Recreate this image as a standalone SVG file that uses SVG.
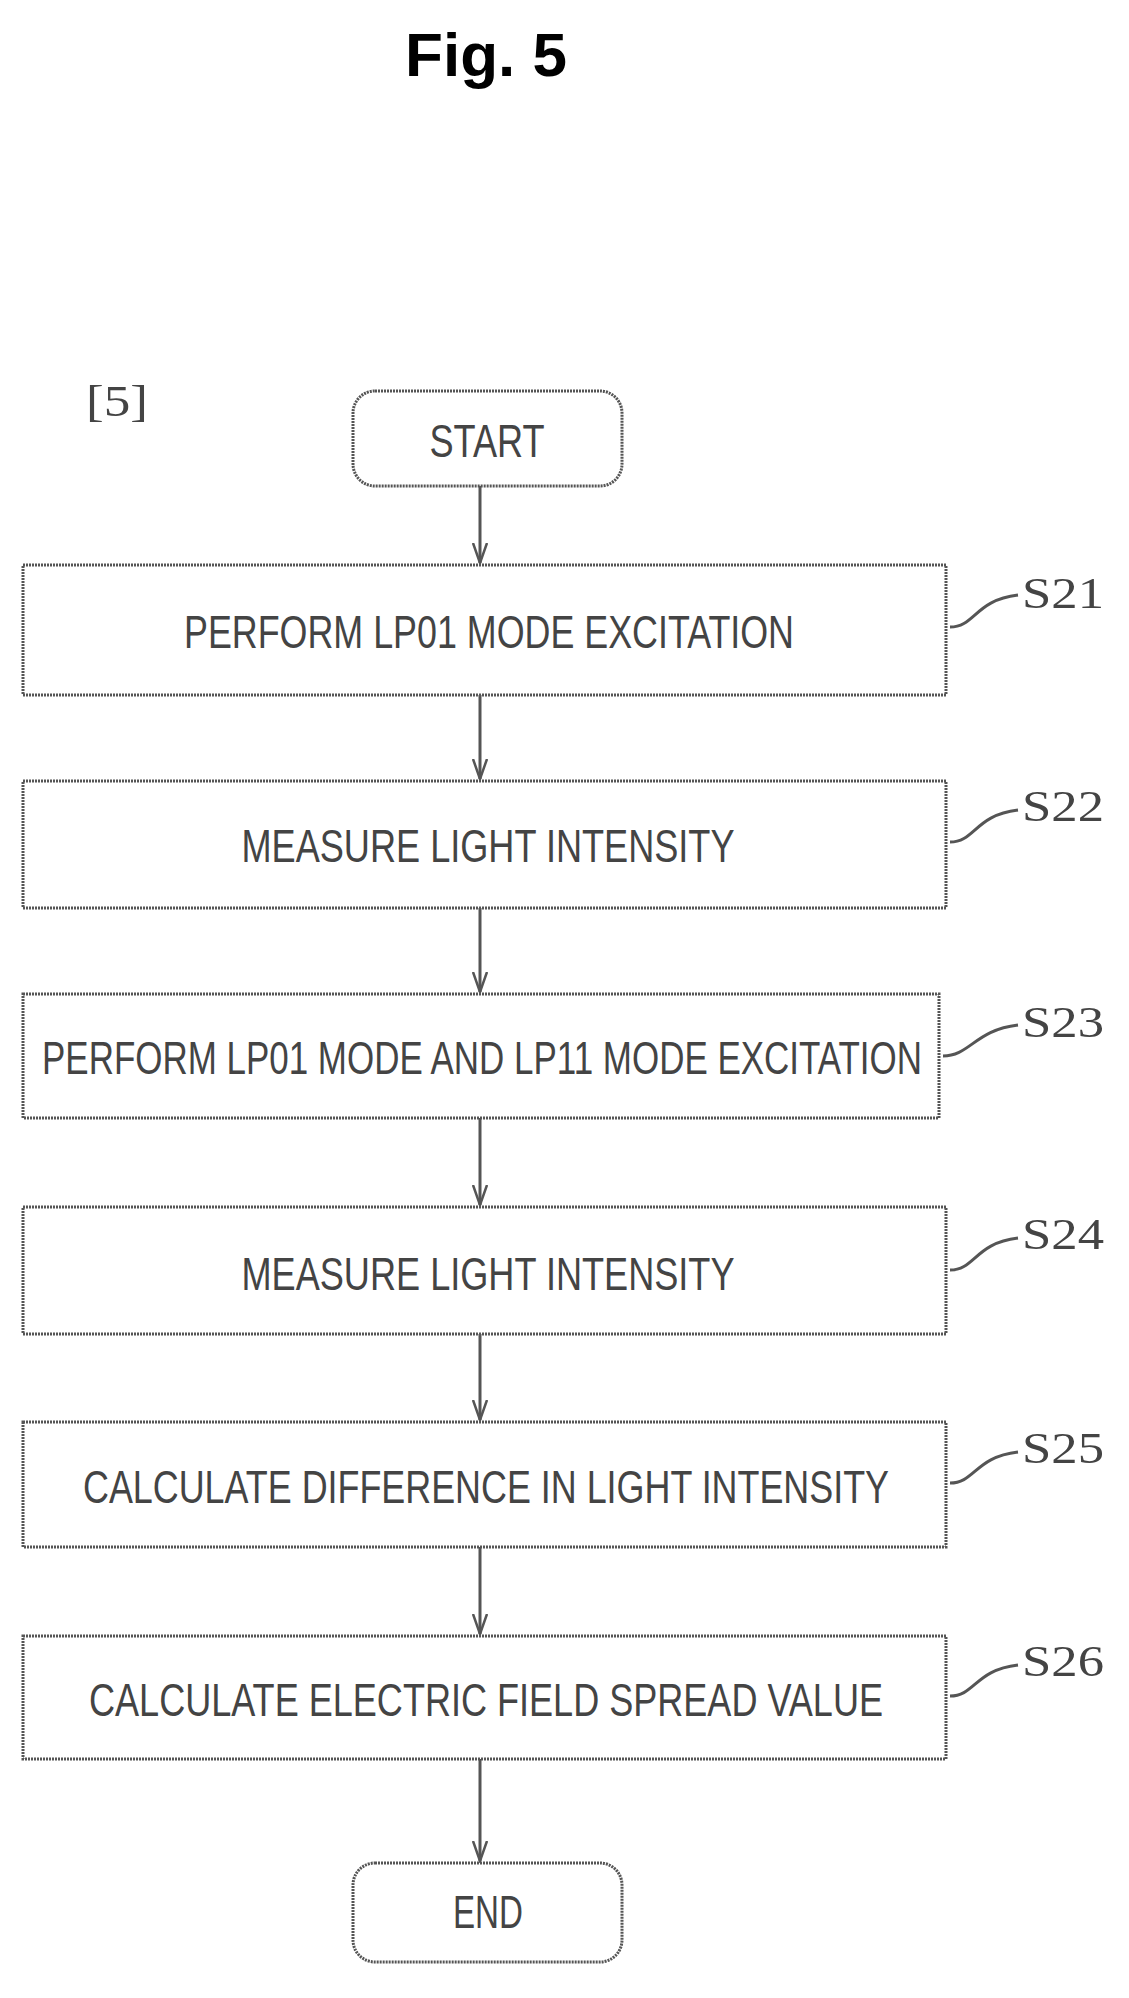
<svg xmlns="http://www.w3.org/2000/svg" width="1129" height="1998" viewBox="0 0 1129 1998">
<style>
.b{fill:#fff;stroke:#555;stroke-width:3;stroke-dasharray:2 1}
.t{font-family:"Liberation Sans",sans-serif;font-size:46px;fill:#444;text-anchor:middle;dominant-baseline:central}
.l{font-family:"Liberation Serif",serif;font-size:44px;fill:#444}
.c{fill:none;stroke:#555;stroke-width:3}
</style>
<defs><marker id="a" markerWidth="22" markerHeight="16" refX="20" refY="8" orient="auto" markerUnits="userSpaceOnUse" viewBox="0 0 22 16"><path d="M0 1L20 8L0 15" fill="none" stroke="#555" stroke-width="2.5"/></marker></defs>
<rect width="1129" height="1998" fill="#fff"/>
<text x="486" y="76" font-family="Liberation Sans,sans-serif" font-weight="bold" font-size="62" text-anchor="middle">Fig. 5</text>
<text class="l" x="86" y="416" textLength="62" lengthAdjust="spacingAndGlyphs">[5]</text>
<g id="start"><rect class="b" x="353" y="391" width="269" height="95" rx="22"/><text class="t" x="487" y="441" textLength="115" lengthAdjust="spacingAndGlyphs">START</text></g>
<g id="s21"><rect class="b" x="23" y="565" width="923" height="130"/><text class="t" x="489" y="632" textLength="610" lengthAdjust="spacingAndGlyphs">PERFORM LP01 MODE EXCITATION</text><text class="l" x="1022" y="608" textLength="82" lengthAdjust="spacingAndGlyphs">S21</text></g>
<g id="s22"><rect class="b" x="23" y="781" width="923" height="127"/><text class="t" x="488" y="846" textLength="493" lengthAdjust="spacingAndGlyphs">MEASURE LIGHT INTENSITY</text><text class="l" x="1022" y="821" textLength="82" lengthAdjust="spacingAndGlyphs">S22</text></g>
<g id="s23"><rect class="b" x="23" y="994" width="916" height="124"/><text class="t" x="482" y="1058" textLength="880" lengthAdjust="spacingAndGlyphs">PERFORM LP01 MODE AND LP11 MODE EXCITATION</text><text class="l" x="1022" y="1037" textLength="82" lengthAdjust="spacingAndGlyphs">S23</text></g>
<g id="s24"><rect class="b" x="23" y="1207" width="923" height="127"/><text class="t" x="488" y="1274" textLength="493" lengthAdjust="spacingAndGlyphs">MEASURE LIGHT INTENSITY</text><text class="l" x="1022" y="1249" textLength="82" lengthAdjust="spacingAndGlyphs">S24</text></g>
<g id="s25"><rect class="b" x="23" y="1422" width="923" height="125"/><text class="t" x="486" y="1487" textLength="806" lengthAdjust="spacingAndGlyphs">CALCULATE DIFFERENCE IN LIGHT INTENSITY</text><text class="l" x="1022" y="1463" textLength="82" lengthAdjust="spacingAndGlyphs">S25</text></g>
<g id="s26"><rect class="b" x="23" y="1636" width="923" height="123"/><text class="t" x="486" y="1700" textLength="794" lengthAdjust="spacingAndGlyphs">CALCULATE ELECTRIC FIELD SPREAD VALUE</text><text class="l" x="1022" y="1676" textLength="82" lengthAdjust="spacingAndGlyphs">S26</text></g>
<g id="end"><rect class="b" x="353" y="1863" width="269" height="99" rx="22"/><text class="t" x="488" y="1912" textLength="70" lengthAdjust="spacingAndGlyphs">END</text></g>
<g id="connectors" class="c">
<path d="M480 486V563" marker-end="url(#a)"/>
<path d="M480 695V779" marker-end="url(#a)"/>
<path d="M480 908V992" marker-end="url(#a)"/>
<path d="M480 1118V1205" marker-end="url(#a)"/>
<path d="M480 1334V1420" marker-end="url(#a)"/>
<path d="M480 1547V1634" marker-end="url(#a)"/>
<path d="M480 1759V1861" marker-end="url(#a)"/>
<path d="M950 627C975 627 975 600 1018 595"/>
<path d="M950 842C975 842 975 815 1018 810"/>
<path d="M943 1056C970 1056 975 1030 1018 1025"/>
<path d="M950 1270C975 1270 975 1243 1018 1238"/>
<path d="M950 1483C975 1483 975 1457 1018 1452"/>
<path d="M950 1696C975 1696 975 1670 1018 1665"/>
</g>
</svg>
